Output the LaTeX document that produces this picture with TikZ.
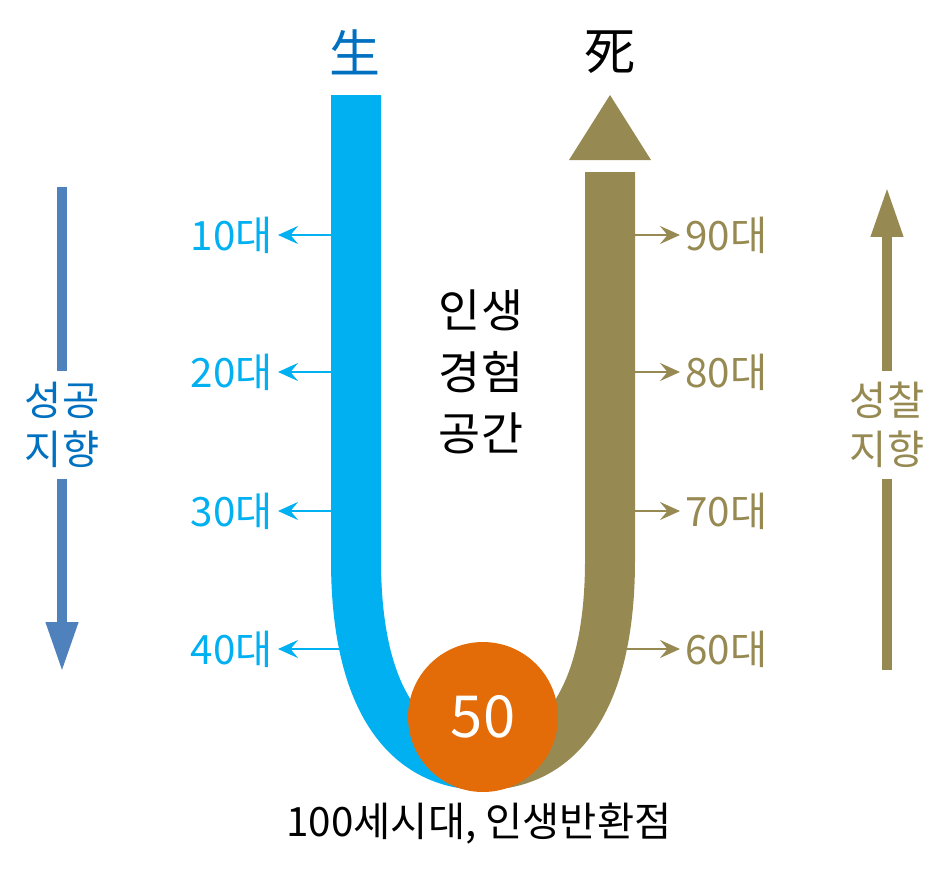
\documentclass[tikz,border=0pt]{standalone}
\usepackage{fontspec}
\setmainfont{Noto Sans CJK KR}
\usetikzlibrary{arrows.meta}
\definecolor{youthblue}{RGB}{0,176,240}
\definecolor{agebrown}{RGB}{150,138,82}
\definecolor{turnorange}{RGB}{227,108,9}
\definecolor{steelblue}{RGB}{79,129,189}
\definecolor{titleblue}{RGB}{0,112,192}
\tikzset{
  agearrow/.style={line width=0.05cm, -{Stealth[length=0.4cm,width=0.36cm,inset=0.15cm]}},
  agelabel/.style={inner xsep=0.1cm, inner ysep=0pt, font=\fontsize{23}{27}\selectfont},
  sidelabel/.style={align=center, inner sep=0pt, minimum height=2.14cm, font=\fontsize{23}{28}\selectfont},
  sidearrow/.style={line width=0.2cm},
}
\begin{document}
\begin{tikzpicture}[x=0.02cm, y=-0.02cm, every node/.style={inner sep=0pt}]
    \useasboundingbox (0,0) rectangle (952,875);
    % age arrows (drawn first, the bars cover their tails)
    \coordinate (b10) at (356,235);
    \coordinate (b20) at (356,372);
    \coordinate (b30) at (356,511);
    \coordinate (b40) at (356,649);
    \coordinate (b90) at (610,235);
    \coordinate (b80) at (610,372);
    \coordinate (b70) at (610,511);
    \coordinate (b60) at (610,649);
    \node[agelabel, anchor=east, text=youthblue] (a10) at (278,235) {10대};
    \node[agelabel, anchor=east, text=youthblue] (a20) at (278,372) {20대};
    \node[agelabel, anchor=east, text=youthblue] (a30) at (278,511) {30대};
    \node[agelabel, anchor=east, text=youthblue] (a40) at (278,649) {40대};
    \node[agelabel, anchor=west, text=agebrown] (a90) at (680,235) {90대};
    \node[agelabel, anchor=west, text=agebrown] (a80) at (680,372) {80대};
    \node[agelabel, anchor=west, text=agebrown] (a70) at (680,511) {70대};
    \node[agelabel, anchor=west, text=agebrown] (a60) at (680,649) {60대};
    \draw[agearrow, youthblue] (b10) -- (b10 -| a10.east);
    \draw[agearrow, youthblue] (b20) -- (b20 -| a20.east);
    \draw[agearrow, youthblue] (b30) -- (b30 -| a30.east);
    \draw[agearrow, youthblue] (b40) -- (b40 -| a40.east);
    \draw[agearrow, agebrown] (b90) -- (b90 -| a90.west);
    \draw[agearrow, agebrown] (b80) -- (b80 -| a80.west);
    \draw[agearrow, agebrown] (b70) -- (b70 -| a70.west);
    \draw[agearrow, agebrown] (b60) -- (b60 -| a60.west);
    % the U
    \draw[youthblue, line width=1cm] (356,95) -- (356,560) .. controls (356,705) and (410,765) .. (483,765);
    \draw[agebrown, line width=1cm] (610,172) -- (610,560) .. controls (610,705) and (556,765) .. (483,765);
    \fill[agebrown] (569,160) -- (651,160) -- (610,95) -- cycle;
    \node[circle, fill=turnorange, minimum size=3cm, text=white, font=\fontsize{33}{33}\selectfont] (half) at (483,717) {50};
    \node[text=titleblue, font=\fontsize{29}{29}\selectfont] (birth) at (355,52) {生};
    \node[font=\fontsize{29}{29}\selectfont] (death) at (610,52) {死};
    \node[align=center, font=\fontsize{26}{35}\selectfont] (space) at (481,372) {인생\\경험\\공간};
    \node[font=\fontsize{23}{27}\selectfont] (turn) at (479,824) {100세시대, 인생반환점};
    % side arrows
    \node[sidelabel, text=titleblue] (success) at (62,425) {성공\\지향};
    \node[sidelabel, text=agebrown] (insight) at (887,425) {성찰\\지향};
    \coordinate (stop) at (62,187);
    \coordinate (send) at (62,672);
    \coordinate (itop) at (887,187);
    \coordinate (iend) at (887,670);
    \draw[sidearrow, steelblue] (stop) -- (success.north);
    \draw[sidearrow, steelblue, -{Triangle[length=1cm,width=0.6cm]}] (success.south) -- (send);
    \draw[sidearrow, agebrown] (iend) -- (insight.south);
    \draw[sidearrow, agebrown, -{Triangle[length=1cm,width=0.6cm]}] (insight.north) -- (itop);
\end{tikzpicture}
\end{document}
